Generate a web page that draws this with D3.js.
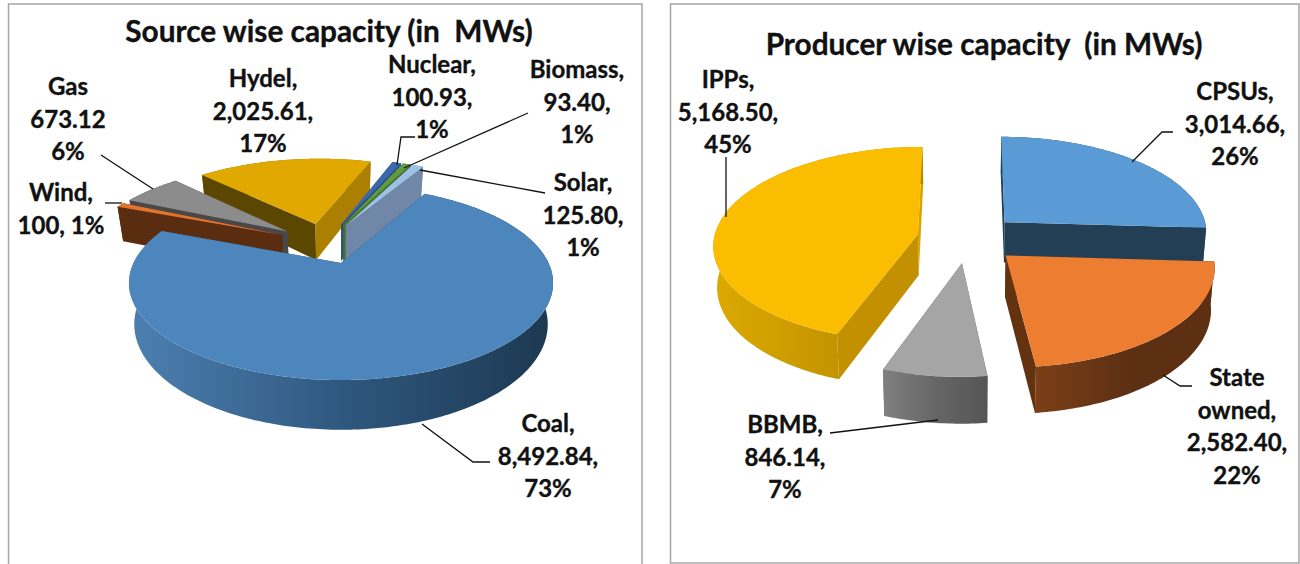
<!DOCTYPE html>
<html>
<head>
  <meta charset="utf-8">
  <title>Source and producer wise capacity</title>
  <script src="https://d3js.org/d3.v7.min.js"></script>
  <style>
    html, body { margin: 0; padding: 0; background: #fff; overflow: hidden; }
    text { font-family: Lato, "Open Sans", sans-serif; font-weight: 700; fill: #111; stroke: #111; stroke-width: 0.35px; white-space: pre; }
  </style>
</head>
<body>
<script>
// values
var sourceNames = ["Coal", "Wind", "Gas", "Hydel", "Nuclear", "Biomass", "Solar"];
var sourceValues = [8492.84, 100, 673.12, 2025.61, 100.93, 93.40, 125.80];
var sourceLabels = [
  ["Coal,", "8,492.84,", "73%"],
  ["Wind,", "100, 1%"],
  ["Gas", "673.12", "6%"],
  ["Hydel,", "2,025.61,", "17%"],
  ["Nuclear,", "100.93,", "1%"],
  ["Biomass,", "93.40,", "1%"],
  ["Solar,", "125.80,", "1%"]
];
var producerNames = ["CPSUs", "State owned", "BBMB", "IPPs"];
var producerValues = [3014.66, 2582.40, 846.14, 5168.50];
var producerLabels = [
  ["CPSUs,", "3,014.66,", "26%"],
  ["State", "owned,", "2,582.40,", "22%"],
  ["BBMB,", "846.14,", "7%"],
  ["IPPs,", "5,168.50,", "45%"]
];

// styles, one entry per slice
var sourceStyle = [
  {top: "#4d86bc", rim: ["#4d80b2", "#2f587f", "#1c3850"], a: "#2c4f70", b: "#2c4f70"},
  {top: "#e2742e", rim: ["#6b3514", "#52290f"], a: "#5a2c10", b: "#5a2c10"},
  {top: "#8c8c8c", rim: ["#6a6a6a", "#4a4a4a"], a: "#484848", b: "#484848"},
  {top: "#e0a800", rim: ["#8a6a00", "#8a6a00"], a: "#5c4700", b: "#ab8000"},
  {top: "#3b69ad", rim: ["#2c4f82", "#2c4f82"], a: "#2c4f82", b: "#2c4f82"},
  {top: "#5f9a42", rim: ["#47732f", "#47732f"], a: "#47732f", b: "#47732f"},
  {top: "#9cc2e6", rim: ["#7087a8", "#7087a8"], a: "#7087a8", b: "#7087a8"}
];
var producerStyle = [
  {top: "#5b9bd5", rim: ["#2a4c69", "#233f56"], a: "#233f56", b: "#233f56"},
  {top: "#ed7d31", rim: ["#7c3f18", "#5e3013", "#5e3013"], a: "#63320f", b: "#63320f"},
  {top: "#a5a5a5", rim: ["#808080", "#666666", "#555555"], a: "#666666", b: "#666666"},
  {top: "#fbbd00", rim: ["#dca900", "#b38600"], a: "#c29000", b: "#d9a300"}
];

// pie layouts, perspective is a small homography on the pie plane
var sourcePie = {
  title: "Source wise capacity (in  MWs)", titleX: 329, titleY: 42,
  start: 28.5, explode: 0.24, anchor: 0,
  x0: 341, y0: 263, rx: 207.5, ry: 92.9, k: 0.206, depth: 39.5, shrink: 0.975,
  labelX: [548, 61, 68, 263, 432, 577, 583],
  labelY: [432, 201, 95, 87, 73, 78, 191],
  leaders: [
    [[490, 462], [473, 462], [422, 424]],
    [[105, 203], [122, 203]],
    [[101, 155], [153, 189]],
    [],
    [[415, 137], [401, 137], [397, 165]],
    [[528, 113], [404, 168]],
    [[545, 193], [420, 170]]
  ]
};
var producerPie = {
  title: "Producer wise capacity  (in MWs)", titleX: 984, titleY: 55,
  start: 0, explode: 0.25, anchor: null,
  x0: 968, y0: 238.5, rx: 204, ry: 97, k: 0.1, depth: 41, shrink: 0.985,
  labelX: [1235, 1237, 785, 728],
  labelY: [100, 386, 433, 88],
  leaders: [
    [[1173, 132], [1162, 132], [1132, 162]],
    [[1192, 386], [1180, 386], [1163, 375]],
    [[830, 433], [938, 420]],
    [[726, 157], [726, 217]]
  ]
};

var svg = d3.select("body").append("svg")
    .attr("width", 1300)
    .attr("height", 564);
var defs = svg.append("defs");

// frames
svg.append("path").attr("d", "M8.5,564V4H642V564")
    .attr("fill", "none").attr("stroke", "#a6a6a6").attr("stroke-width", 1.5);
svg.append("rect").attr("x", 670.5).attr("y", 4).attr("width", 628.5).attr("height", 559)
    .attr("fill", "none").attr("stroke", "#a6a6a6").attr("stroke-width", 1.5);

var lineGen = d3.line();
var rad = Math.PI / 180;

function drawPie(cfg, names, values, labels, styles, id) {
  var arcs = d3.pie().sort(null)
      .startAngle(cfg.start * rad)
      .endAngle((cfg.start + 360) * rad)(values);

  function mid(d) { return (d.startAngle + d.endAngle) / 2; }
  var ax = 0, av = 0;
  if (cfg.anchor !== null) {
    ax = Math.sin(mid(arcs[cfg.anchor]));
    av = -Math.cos(mid(arcs[cfg.anchor]));
  }

  // a point of the plane to the top face (h=0) or the bottom face (h=1)
  function project(X, V, h) {
    var s = 1 / (1 - cfg.k * V);
    var x = cfg.rx * X * s * (h ? cfg.shrink : 1);
    return [cfg.x0 + x, cfg.y0 + cfg.ry * V * s + (h ? cfg.depth * s : 0)];
  }
  function slice(d) {
    var m = mid(d);
    return {
      ox: cfg.explode * (Math.sin(m) - ax),
      ov: cfg.explode * (-Math.cos(m) - av)
    };
  }
  function rimPoint(o, a, h) { return project(o.ox + Math.sin(a), o.ov - Math.cos(a), h); }
  function rimPoints(d, h) {
    var o = slice(d), n = Math.max(4, Math.ceil((d.endAngle - d.startAngle) / rad));
    return d3.range(n + 1).map(function(i) {
      return rimPoint(o, d.startAngle + (d.endAngle - d.startAngle) * i / n, h);
    });
  }

  var order = d3.range(arcs.length).sort(function(a, b) {
    return -Math.cos(mid(arcs[a])) - -Math.cos(mid(arcs[b]));
  });

  order.forEach(function(i) {
    var d = arcs[i], st = styles[i], o = slice(d);
    var g = svg.append("g").attr("class", "slice").attr("data-name", names[i]);
    var topRim = rimPoints(d, 0), botRim = rimPoints(d, 1);

    var gradId = id + "-rim-" + i;
    var ext = d3.extent(topRim, function(p) { return p[0]; });
    var stopAt = d3.scaleLinear().domain([0, st.rim.length - 1]).range([0, 1]);
    var grad = defs.append("linearGradient").attr("id", gradId)
        .attr("gradientUnits", "userSpaceOnUse")
        .attr("x1", ext[0]).attr("x2", ext[1]).attr("y1", 0).attr("y2", 0);
    st.rim.forEach(function(c, j) {
      grad.append("stop").attr("offset", stopAt(j)).attr("stop-color", c);
    });

    var apexT = project(o.ox, o.ov, 0), apexB = project(o.ox, o.ov, 1);
    var last = topRim.length - 1;
    var walls = [
      {d: lineGen([apexT, topRim[0], botRim[0], apexB]) + "Z", fill: st.a, front: -Math.sin(d.startAngle) > 0},
      {d: lineGen([apexT, topRim[last], botRim[last], apexB]) + "Z", fill: st.b, front: Math.sin(d.endAngle) > 0}
    ];
    function addWall(w) { g.append("path").attr("d", w.d).attr("fill", w.fill); }

    // walls that face away go behind the rim, the others in front of it
    walls.filter(function(w) { return !w.front; }).forEach(addWall);
    g.append("path")
        .attr("d", lineGen(topRim.concat(botRim.slice().reverse())) + "Z")
        .attr("fill", "url(#" + gradId + ")");
    walls.filter(function(w) { return w.front; }).forEach(addWall);
    g.append("path")
        .attr("d", lineGen([apexT].concat(topRim)) + "Z")
        .attr("fill", st.top);
  });

  // leader lines
  svg.append("g").selectAll("path")
      .data(cfg.leaders.filter(function(l) { return l.length; }))
      .enter().append("path")
      .attr("d", function(l) { return lineGen(l); })
      .attr("fill", "none")
      .attr("stroke", "#111")
      .attr("stroke-width", 1.3);

  // data labels
  var lab = svg.append("g").selectAll("text")
      .data(labels)
      .enter().append("text")
      .attr("text-anchor", "middle")
      .attr("font-size", 24);
  lab.selectAll("tspan")
      .data(function(lines, i) {
        return lines.map(function(t, j) {
          return {t: t, x: cfg.labelX[i], y: cfg.labelY[i] + j * 32.7};
        });
      })
      .enter().append("tspan")
      .attr("x", function(d) { return d.x; })
      .attr("y", function(d) { return d.y; })
      .text(function(d) { return d.t; });

  svg.append("text")
      .attr("x", cfg.titleX)
      .attr("y", cfg.titleY)
      .attr("text-anchor", "middle")
      .attr("font-size", 29.8)
      .text(cfg.title);
}

drawPie(sourcePie, sourceNames, sourceValues, sourceLabels, sourceStyle, "src");
drawPie(producerPie, producerNames, producerValues, producerLabels, producerStyle, "prd");
</script>
</body>
</html>
